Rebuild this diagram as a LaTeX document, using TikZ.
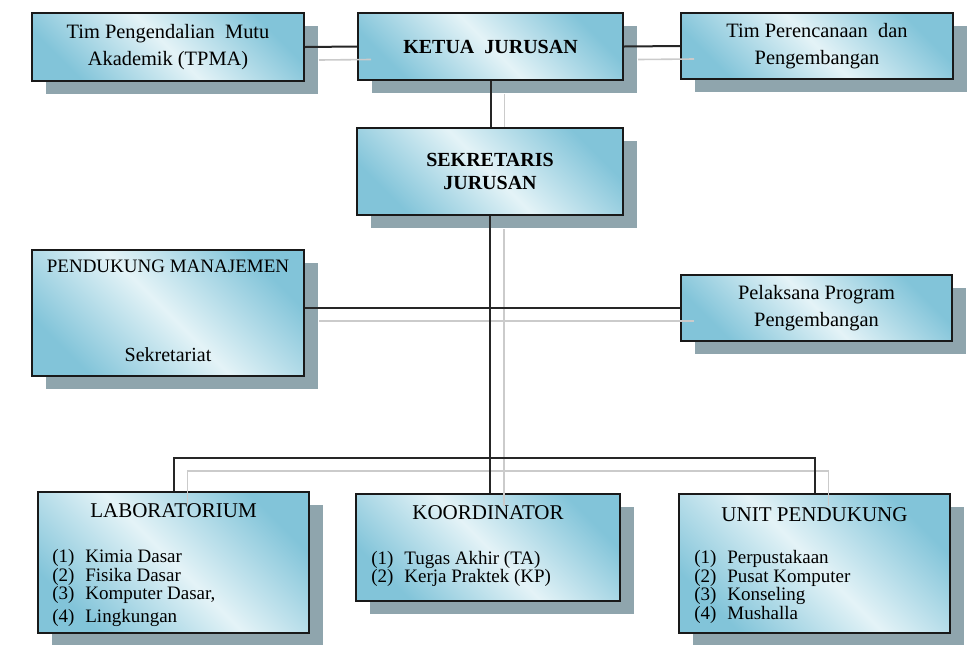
\documentclass[tikz,border=0pt]{standalone}
\usepackage{fontspec}
\setmainfont{Liberation Serif}
\usetikzlibrary{shadows}
\definecolor{boxblue}{HTML}{82C4D9}
\definecolor{boxlight}{HTML}{E4F3F7}
\definecolor{shadowgray}{HTML}{8FA5AD}
\definecolor{lineshade}{HTML}{CBCBCB}
\newcommand{\numitem}[2]{\makebox[16.5pt][l]{(#1)}#2}
\tikzset{
  unitbox/.style={draw=black!90, line width=1pt, rectangle, inner sep=0pt, align=center,
    top color=boxblue, bottom color=boxblue, middle color=boxlight, shading angle=-45,
    drop shadow={shadow xshift=7pt, shadow yshift=-6.5pt, fill=shadowgray, opacity=1}},
  link/.style={line width=1pt, black!85},
  linkshade/.style={line width=0.8pt, lineshade},
  offs/.style={shift={(14,13)}},
  toptext/.style={font=\fontsize{10.2}{13.8}\selectfont},
  headtext/.style={font=\bfseries\fontsize{10}{11.3}\selectfont},
  titletext/.style={font=\fontsize{10.5}{12}\selectfont, anchor=base, inner sep=0pt},
  listtext/.style={font=\fontsize{9.5}{9.25}\selectfont, anchor=north west, align=left, inner sep=0pt},
}
\begin{document}
\begin{tikzpicture}[x=0.5pt,y=-0.5pt]
\useasboundingbox (0,0) rectangle (970,644);
%top row
\node[unitbox, toptext, minimum width=136pt, minimum height=34pt] (tpma) at (168,47) {Tim Pengendalian~ Mutu\\Akademik (TPMA)};
\node[unitbox, headtext, minimum width=132.5pt, minimum height=33.5pt] (ketua) at (490.5,46.5) {KETUA~ JURUSAN};
\node[unitbox, toptext, minimum width=136pt, minimum height=33pt] (perencanaan) at (817,46) {Tim Perencanaan~ dan\\Pengembangan};
\node[unitbox, headtext, minimum width=133pt, minimum height=43.5pt] (sekretaris) at (490,171.5) {SEKRETARIS\\JURUSAN};
%middle row
\node[unitbox, minimum width=136pt, minimum height=63pt] (pendukung) at (168,313) {};
\node[titletext, font=\fontsize{9.5}{11}\selectfont] (manajemen) at ([yshift=-11.5pt]pendukung.north) {PENDUKUNG MANAJEMEN};
\node[titletext, font=\fontsize{10}{12}\selectfont] (sekretariat) at ([yshift=8pt]pendukung.south) {Sekretariat};
\node[unitbox, toptext, minimum width=135.5pt, minimum height=33pt] (pelaksana) at (816.5,308) {Pelaksana Program\\Pengembangan};
%bottom row
\node[unitbox, minimum width=135.5pt, minimum height=70.5pt] (lab) at (173.5,562.5) {};
\node[titletext] (labtitle) at ([yshift=-13pt]lab.north) {LABORATORIUM};
\node[listtext] (lablist) at ([xshift=7.5pt,yshift=-29pt]lab.north west)
  {\numitem{1}{Kimia Dasar}\\\numitem{2}{Fisika Dasar}\\\numitem{3}{Komputer Dasar,}\\[2.3pt]\numitem{4}{Lingkungan}};
\node[unitbox, minimum width=132pt, minimum height=53.5pt] (koord) at (488,547.5) {};
\node[titletext] (koordtitle) at ([yshift=-13pt]koord.north) {KOORDINATOR};
\node[listtext] (koordlist) at ([xshift=8pt,yshift=-28.8pt]koord.north west)
  {\numitem{1}{Tugas Akhir (TA)}\\\numitem{2}{Kerja Praktek (KP)}};
\node[unitbox, minimum width=135.5pt, minimum height=69.5pt] (unit) at (814.5,563.5) {};
\node[titletext] (unittitle) at ([yshift=-14pt]unit.north) {UNIT PENDUKUNG};
\node[listtext] (unitlist) at ([xshift=8pt,yshift=-28.5pt]unit.north west)
  {\numitem{1}{Perpustakaan}\\\numitem{2}{Pusat Komputer}\\\numitem{3}{Konseling}\\\numitem{4}{Mushalla}};
%connectors
\coordinate (bus) at (489,458);
\draw[linkshade] ([offs]tpma.east) -- ([offs]ketua.west);
\draw[linkshade] ([offs]ketua.east) -- ([offs]perencanaan.west);
\draw[linkshade] ([offs]ketua.south) -- ([xshift=7pt]ketua.south |- sekretaris.north);
\draw[linkshade] ([offs]sekretaris.south) -- ([offs]sekretaris.south |- koord.north);
\draw[linkshade] ([offs]pendukung.east |- pelaksana.west) -- ([offs]pelaksana.west);
\draw[linkshade] ([offs]lab.north) -- ([offs]lab.north |- bus) -- ([offs]unit.north |- bus) -- ([offs]unit.north);
\draw[link] (tpma.east) -- (ketua.west);
\draw[link] (ketua.east) -- (perencanaan.west);
\draw[link] (ketua.south) -- (ketua.south |- sekretaris.north);
\draw[link] (sekretaris.south) -- (sekretaris.south |- koord.north);
\draw[link] (pendukung.east |- pelaksana.west) -- (pelaksana.west);
\draw[link] (lab.north) -- (lab.north |- bus) -- (unit.north |- bus) -- (unit.north);
\end{tikzpicture}
\end{document}
